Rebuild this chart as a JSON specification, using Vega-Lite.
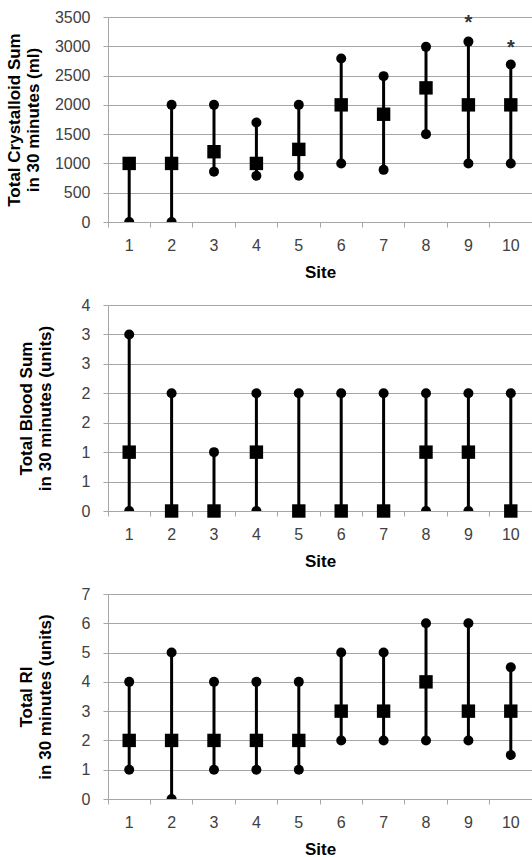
{
  "$schema": "https://vega.github.io/schema/vega-lite/v6.json",
  "padding": {"left": 5, "top": 9, "right": 0, "bottom": 2},
  "spacing": 17,
  "config": {
    "font": "Liberation Sans",
    "view": {"stroke": null},
    "axis": {
      "labelFont": "Liberation Sans", "labelFontSize": 16, "labelColor": "#404040",
      "titleFont": "Liberation Sans", "titleFontSize": 17, "titleFontWeight": "bold", "titleColor": "#000000",
      "gridColor": "#a6a6a6", "domainColor": "#a6a6a6", "tickColor": "#a6a6a6",
      "tickSize": 5, "titleLineHeight": 19
    },
    "axisX": {"labelAngle": 0, "bandPosition": 0, "labelPadding": 10, "titlePadding": 11, "grid": false},
    "axisY": {"grid": true, "labelPadding": 13}
  },
  "datasets": {
    "crystalloid": [
      {"site": 1, "low": 0, "median": 1000, "high": 1000},
      {"site": 2, "low": 0, "median": 1000, "high": 2000},
      {"site": 3, "low": 860, "median": 1200, "high": 2000},
      {"site": 4, "low": 790, "median": 1000, "high": 1700},
      {"site": 5, "low": 790, "median": 1240, "high": 2000},
      {"site": 6, "low": 1000, "median": 2000, "high": 2790},
      {"site": 7, "low": 890, "median": 1840, "high": 2490},
      {"site": 8, "low": 1500, "median": 2290, "high": 2990},
      {"site": 9, "low": 1000, "median": 2000, "high": 3080},
      {"site": 10, "low": 1000, "median": 2000, "high": 2690}
    ],
    "stars": [
      {"site": 9, "y": 3480, "label": "*"},
      {"site": 10, "y": 3050, "label": "*"}
    ],
    "blood": [
      {"site": 1, "low": 0, "median": 1, "high": 3},
      {"site": 2, "low": 0, "median": 0, "high": 2},
      {"site": 3, "low": 0, "median": 0, "high": 1},
      {"site": 4, "low": 0, "median": 1, "high": 2},
      {"site": 5, "low": 0, "median": 0, "high": 2},
      {"site": 6, "low": 0, "median": 0, "high": 2},
      {"site": 7, "low": 0, "median": 0, "high": 2},
      {"site": 8, "low": 0, "median": 1, "high": 2},
      {"site": 9, "low": 0, "median": 1, "high": 2},
      {"site": 10, "low": 0, "median": 0, "high": 2}
    ],
    "ri": [
      {"site": 1, "low": 1, "median": 2, "high": 4},
      {"site": 2, "low": 0, "median": 2, "high": 5},
      {"site": 3, "low": 1, "median": 2, "high": 4},
      {"site": 4, "low": 1, "median": 2, "high": 4},
      {"site": 5, "low": 1, "median": 2, "high": 4},
      {"site": 6, "low": 2, "median": 3, "high": 5},
      {"site": 7, "low": 2, "median": 3, "high": 5},
      {"site": 8, "low": 2, "median": 4, "high": 6},
      {"site": 9, "low": 2, "median": 3, "high": 6},
      {"site": 10, "low": 1.5, "median": 3, "high": 4.5}
    ]
  },
  "vconcat": [
    {
      "width": 424, "height": 205,
      "data": {"name": "crystalloid"},
      "encoding": {
        "x": {"field": "site", "type": "ordinal", "scale": {"type": "band", "paddingInner": 0, "paddingOuter": 0}, "axis": {"title": "Site"}}
      },
      "layer": [
        {
          "mark": {"type": "rule", "strokeWidth": 3, "color": "#000000"},
          "encoding": {
            "y": {"field": "low", "type": "quantitative", "scale": {"domain": [0, 3500]},
                  "axis": {"title": ["Total Crystalloid Sum", "in 30 minutes (ml)"], "values": [0, 500, 1000, 1500, 2000, 2500, 3000, 3500], "format": "d", "titlePadding": 12}},
            "y2": {"field": "high"}
          }
        },
        {
          "mark": {"type": "point", "shape": "circle", "filled": true, "size": 100, "color": "#000000", "opacity": 1, "clip": true},
          "encoding": {
            "y": {"field": "low", "type": "quantitative", "scale": {"domain": [0, 3500]},
                  "axis": {"title": ["Total Crystalloid Sum", "in 30 minutes (ml)"], "values": [0, 500, 1000, 1500, 2000, 2500, 3000, 3500], "format": "d", "titlePadding": 12}}
          }
        },
        {
          "mark": {"type": "point", "shape": "circle", "filled": true, "size": 100, "color": "#000000", "opacity": 1},
          "encoding": {
            "y": {"field": "high", "type": "quantitative", "scale": {"domain": [0, 3500]},
                  "axis": {"title": ["Total Crystalloid Sum", "in 30 minutes (ml)"], "values": [0, 500, 1000, 1500, 2000, 2500, 3000, 3500], "format": "d", "titlePadding": 12}}
          }
        },
        {
          "mark": {"type": "point", "shape": "square", "filled": true, "size": 180, "color": "#000000", "opacity": 1},
          "encoding": {
            "y": {"field": "median", "type": "quantitative", "scale": {"domain": [0, 3500]},
                  "axis": {"title": ["Total Crystalloid Sum", "in 30 minutes (ml)"], "values": [0, 500, 1000, 1500, 2000, 2500, 3000, 3500], "format": "d", "titlePadding": 12}}
          }
        },
        {
          "data": {"name": "stars"},
          "mark": {"type": "text", "fontSize": 20, "fontWeight": "bold", "color": "#333333", "baseline": "middle", "dy": 5},
          "encoding": {
            "y": {"field": "y", "type": "quantitative", "scale": {"domain": [0, 3500]},
                  "axis": {"title": ["Total Crystalloid Sum", "in 30 minutes (ml)"], "values": [0, 500, 1000, 1500, 2000, 2500, 3000, 3500], "format": "d", "titlePadding": 12}},
            "text": {"field": "label"}
          }
        }
      ]
    },
    {
      "width": 424, "height": 206,
      "data": {"name": "blood"},
      "encoding": {
        "x": {"field": "site", "type": "ordinal", "scale": {"type": "band", "paddingInner": 0, "paddingOuter": 0}, "axis": {"title": "Site"}}
      },
      "layer": [
        {
          "mark": {"type": "rule", "strokeWidth": 3, "color": "#000000"},
          "encoding": {
            "y": {"field": "low", "type": "quantitative", "scale": {"domain": [0, 3.5]},
                  "axis": {"title": ["Total Blood Sum", "in 30 minutes (units)"], "values": [0, 0.5, 1, 1.5, 2, 2.5, 3, 3.5], "format": ".0f", "titlePadding": 27}},
            "y2": {"field": "high"}
          }
        },
        {
          "mark": {"type": "point", "shape": "circle", "filled": true, "size": 100, "color": "#000000", "opacity": 1, "clip": true},
          "encoding": {
            "y": {"field": "low", "type": "quantitative", "scale": {"domain": [0, 3.5]},
                  "axis": {"title": ["Total Blood Sum", "in 30 minutes (units)"], "values": [0, 0.5, 1, 1.5, 2, 2.5, 3, 3.5], "format": ".0f", "titlePadding": 27}}
          }
        },
        {
          "mark": {"type": "point", "shape": "circle", "filled": true, "size": 100, "color": "#000000", "opacity": 1},
          "encoding": {
            "y": {"field": "high", "type": "quantitative", "scale": {"domain": [0, 3.5]},
                  "axis": {"title": ["Total Blood Sum", "in 30 minutes (units)"], "values": [0, 0.5, 1, 1.5, 2, 2.5, 3, 3.5], "format": ".0f", "titlePadding": 27}}
          }
        },
        {
          "mark": {"type": "point", "shape": "square", "filled": true, "size": 180, "color": "#000000", "opacity": 1},
          "encoding": {
            "y": {"field": "median", "type": "quantitative", "scale": {"domain": [0, 3.5]},
                  "axis": {"title": ["Total Blood Sum", "in 30 minutes (units)"], "values": [0, 0.5, 1, 1.5, 2, 2.5, 3, 3.5], "format": ".0f", "titlePadding": 27}}
          }
        }
      ]
    },
    {
      "width": 424, "height": 205,
      "data": {"name": "ri"},
      "encoding": {
        "x": {"field": "site", "type": "ordinal", "scale": {"type": "band", "paddingInner": 0, "paddingOuter": 0}, "axis": {"title": "Site"}}
      },
      "layer": [
        {
          "mark": {"type": "rule", "strokeWidth": 3, "color": "#000000"},
          "encoding": {
            "y": {"field": "low", "type": "quantitative", "scale": {"domain": [0, 7]},
                  "axis": {"title": ["Total RI", "in 30 minutes (units)"], "values": [0, 1, 2, 3, 4, 5, 6, 7], "format": "d", "titlePadding": 27}},
            "y2": {"field": "high"}
          }
        },
        {
          "mark": {"type": "point", "shape": "circle", "filled": true, "size": 100, "color": "#000000", "opacity": 1, "clip": true},
          "encoding": {
            "y": {"field": "low", "type": "quantitative", "scale": {"domain": [0, 7]},
                  "axis": {"title": ["Total RI", "in 30 minutes (units)"], "values": [0, 1, 2, 3, 4, 5, 6, 7], "format": "d", "titlePadding": 27}}
          }
        },
        {
          "mark": {"type": "point", "shape": "circle", "filled": true, "size": 100, "color": "#000000", "opacity": 1},
          "encoding": {
            "y": {"field": "high", "type": "quantitative", "scale": {"domain": [0, 7]},
                  "axis": {"title": ["Total RI", "in 30 minutes (units)"], "values": [0, 1, 2, 3, 4, 5, 6, 7], "format": "d", "titlePadding": 27}}
          }
        },
        {
          "mark": {"type": "point", "shape": "square", "filled": true, "size": 180, "color": "#000000", "opacity": 1},
          "encoding": {
            "y": {"field": "median", "type": "quantitative", "scale": {"domain": [0, 7]},
                  "axis": {"title": ["Total RI", "in 30 minutes (units)"], "values": [0, 1, 2, 3, 4, 5, 6, 7], "format": "d", "titlePadding": 27}}
          }
        }
      ]
    }
  ]
}
